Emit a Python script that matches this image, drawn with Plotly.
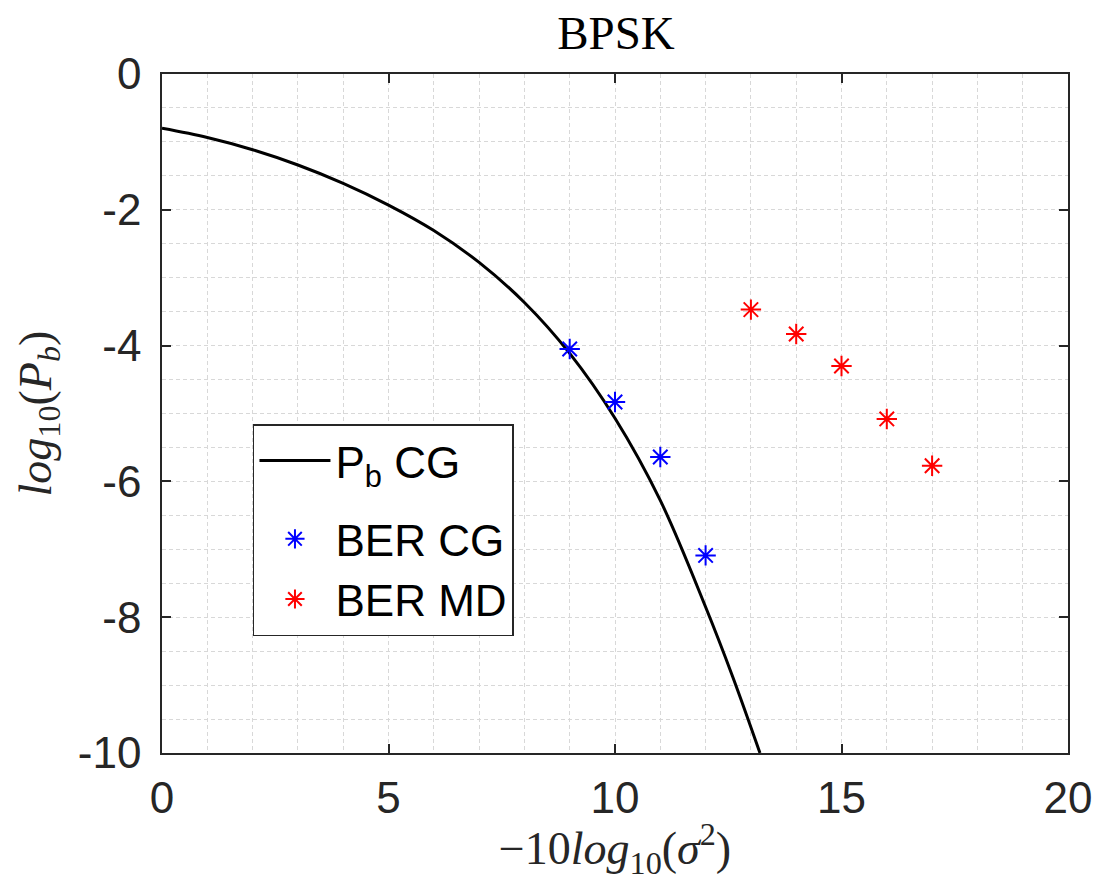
import plotly.graph_objects as go

# Theoretical bit error probability curve
snr_db = [0, 1, 2, 3, 4, 5, 6, 7, 8, 9, 10, 11, 12, 12.6, 13.2]
log_pb = [-0.80, -0.935, -1.115, -1.34, -1.61, -1.93, -2.305, -2.775,
          -3.365, -4.115, -5.07, -6.28, -7.85, -8.88, -10.0]

# Simulated BER, coherent (CG) and matched detector (MD)
ber_cg_x = [9, 10, 11, 12]
ber_cg_y = [-4.05, -4.83, -5.64, -7.09]
ber_md_x = [13, 14, 15, 16, 17]
ber_md_y = [-3.47, -3.83, -4.30, -5.08, -5.77]

x_ticks = [0, 5, 10, 15, 20]
x_ticktext = ["0", "5", "10", "15", "20"]
y_ticks = [-10, -8, -6, -4, -2, 0]
y_ticktext = ["-10", "-8", "-6", "-4", "-2", "0"]

axis_color = "#262626"
grid_color = "#d8d8d8"
sans = "Liberation Sans, Arial, sans-serif"
serif = "Liberation Serif, Times New Roman, serif"

fig = go.Figure()
fig.add_trace(go.Scatter(
    x=snr_db, y=log_pb, mode="lines", name="P<sub>b</sub> CG",
    legendgroup="theory",
    line=dict(color="black", width=3, shape="spline", smoothing=1.0),
))
fig.add_trace(go.Scatter(
    x=ber_cg_x, y=ber_cg_y, mode="markers", name="BER CG",
    legendgroup="sim",
    marker=dict(symbol="asterisk-open", size=17, color="#0000ff",
                line=dict(color="#0000ff", width=2)),
))
fig.add_trace(go.Scatter(
    x=ber_md_x, y=ber_md_y, mode="markers", name="BER MD",
    legendgroup="sim",
    marker=dict(symbol="asterisk-open", size=17, color="#ff0000",
                line=dict(color="#ff0000", width=2)),
))

common_axis = dict(
    showline=True, linecolor=axis_color, linewidth=1.5, mirror="ticks",
    ticks="inside", ticklen=9, tickwidth=1.5, tickcolor=axis_color,
    tickfont=dict(family=sans, size=44, color=axis_color),
    showgrid=True, gridcolor=grid_color, gridwidth=1, griddash="4px,3px",
    zeroline=False,
)

fig.update_xaxes(
    range=[0, 20], tickvals=x_ticks, ticktext=x_ticktext,
    ticklabelstandoff=5,
    minor=dict(dtick=1, showgrid=True, gridcolor=grid_color, gridwidth=1,
               griddash="4px,3px", ticks=""),
    title=dict(text="\u221210<i>log</i><sub>10</sub>(<i>\u03c3</i><sup>2</sup>)",
               font=dict(family=serif, size=46, color=axis_color), standoff=27),
    **common_axis,
)
fig.update_yaxes(
    range=[-10, 0], tickvals=y_ticks, ticktext=y_ticktext,
    ticklabelstandoff=10,
    minor=dict(dtick=0.5, showgrid=True, gridcolor=grid_color, gridwidth=1,
               griddash="4px,3px", ticks=""),
    title=dict(text="<i>log</i><sub>10</sub>(<i>P</i><sub><i>b</i></sub>)",
               font=dict(family=serif, size=46, color=axis_color), standoff=12),
    **common_axis,
)

fig.update_layout(
    width=1099, height=881,
    margin=dict(l=162, r=31, t=74, b=128, autoexpand=False),
    paper_bgcolor="white", plot_bgcolor="white",
    title=dict(text="BPSK", x=0.5605, xanchor="center", y=0.963, yanchor="middle",
               font=dict(family=serif, size=47, color="black")),
    showlegend=True,
    legend=dict(
        x=0.1004, y=0.4845, xanchor="left", yanchor="top",
        bgcolor="white", bordercolor=axis_color, borderwidth=1.5,
        font=dict(family=sans, size=44, color="black"),
        itemwidth=71, tracegroupgap=18,
    ),
)

fig.write_html("out.html")
